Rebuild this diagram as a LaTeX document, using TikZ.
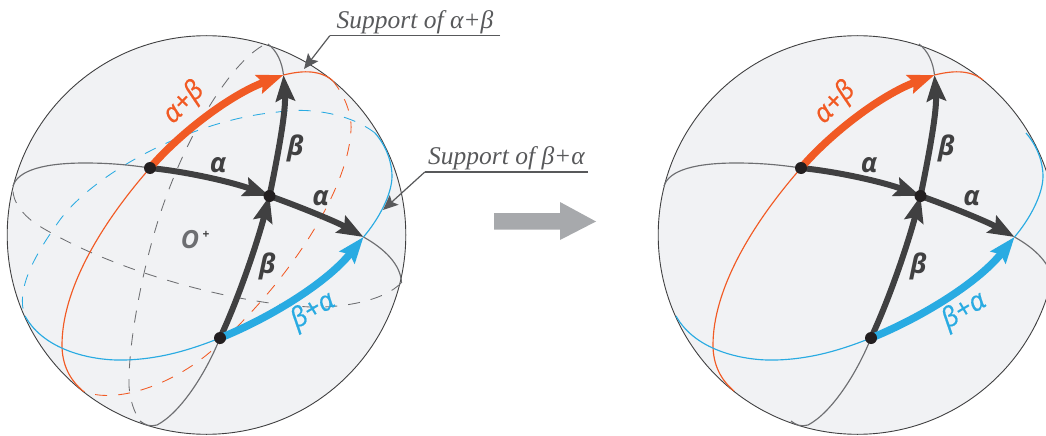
\documentclass[tikz,border=0pt]{standalone}
\usepackage{fontspec}
\setmainfont{Liberation Serif}
\newfontfamily\lblfont{Open Sans}
\newfontfamily\sumfont[ItalicFeatures={FakeBold=0.5}]{Open Sans}
\usetikzlibrary{arrows.meta,calc}
\definecolor{darkarc}{HTML}{404041}
\definecolor{thinarc}{HTML}{6D6E71}
\definecolor{orangearc}{HTML}{F15A24}
\definecolor{bluearc}{HTML}{29ABE2}
\definecolor{ballfill}{HTML}{F1F2F4}
\definecolor{dotblack}{HTML}{231F20}
\definecolor{leadgrey}{HTML}{58595B}
\definecolor{bigarrow}{HTML}{A7A9AC}
\tikzset{
	ball/.style={draw=darkarc, fill=ballfill, line width=0.9pt},
	thinline/.style={line width=1.15pt},
	backline/.style={line width=0.85pt, dash pattern=on 12pt off 11pt},
	thick arc/.style={line width=#1, -{Stealth[length=26pt,width=19pt,inset=4pt]}},
	arcdot/.style={circle, fill=dotblack, inner sep=0pt, minimum size=12pt},
	darklabel/.style={color=darkarc, font=\lblfont\bfseries\itshape\fontsize{27}{27}\selectfont},
	sumlabel/.style={font=\sumfont\itshape\fontsize{27}{27}\selectfont},
	supportlabel/.style={color=leadgrey, font=\itshape\fontsize{25.5}{25.5}\selectfont, inner sep=2pt, anchor=south},
	leader/.style={color=leadgrey, line width=1.2pt},
	leadertip/.style={-{Stealth[length=15pt,width=13pt,inset=3pt]}}
}
% everything both spheres share
\def\spherefront{
	\coordinate (A) at (150, 168);
	\coordinate (B) at (269.5, 196);
	\coordinate (C) at (220, 338);
	\coordinate (D) at (283.5, 75);
	\coordinate (E) at (363.5, 237);
	
	\draw[thinline, thinarc] (13, 186) .. controls (18, 170) and (45, 163) .. (85, 163) .. controls (110, 163) and (130, 165) .. (A);
	\draw[thinline, thinarc] (E) .. controls (385, 249) and (401, 265) .. (401.5, 283);
	\draw[thinline, thinarc] (140, 421) .. controls (145, 425) and (150, 427) .. (157, 425) .. controls (180, 413) and (205, 375) .. (C);
	\draw[thinline, thinarc] (D) .. controls (282, 62) and (277, 51) .. (268, 44);
	
	\draw[thinline, orangearc] (A) .. controls (100, 225) and (62, 290) .. (62, 345) .. controls (62, 365) and (70, 380) .. (83, 391);
	\draw[thinline, orangearc] (D) .. controls (300, 71) and (318, 69) .. (332, 80);
	
	\draw[thinline, bluearc] (25, 316) .. controls (45, 352) and (95, 361) .. (125, 360) .. controls (160, 359) and (190, 350) .. (C);
	\draw[thinline, bluearc] (375, 133) .. controls (388, 148) and (392, 165) .. (392, 176) .. controls (392, 195) and (378, 220) .. (E);
	
	\draw[thick arc=6pt, darkarc] (A) .. controls (190, 172) and (235, 183) .. (B);
	\draw[thick arc=6pt, darkarc] (B) .. controls (290, 203) and (335, 221) .. (E);
	\draw[thick arc=6pt, darkarc] (C) .. controls (240, 295) and (258, 240) .. (B);
	\draw[thick arc=6pt, darkarc] (B) .. controls (279, 150) and (286, 110) .. (D);
	\draw[thick arc=7.5pt, orangearc] (A) .. controls (180, 133) and (230, 95) .. (D);
	\draw[thick arc=7.5pt, bluearc] (C) .. controls (265, 320) and (325, 285) .. (E);
	
	\node[arcdot] (dotA) at (A) {};
	\node[arcdot] (dotB) at (B) {};
	\node[arcdot] (dotC) at (C) {};
	
	\node[darklabel] (alphaone) at (218, 165) {α};
	\node[darklabel] (alphatwo) at (320.5, 198) {α};
	\node[darklabel] (betaup) at (295.5, 148) {β};
	\node[darklabel] (betalow) at (267.5, 266) {β};
	\node[sumlabel, orangearc, rotate=46] (sumab) at (184, 103) {α+β};
	\node[sumlabel, bluearc, rotate=31] (sumba) at (313, 311) {β+α};
}

\begin{document}
\begin{tikzpicture}[x=1pt, y=-1pt]
		%%%%% START %%%%%
		\useasboundingbox (0, 0) rectangle (1046, 436);
		\clip (0, 0) rectangle (1046, 436);
		
		\draw[ball] (206.5, 235) circle (199.3pt);
		
		% back sides, left sphere only
		\draw[backline, thinarc] (401, 283) .. controls (385, 300) and (345, 308) .. (310, 307) .. controls (230, 303) and (110, 270) .. (36, 224) .. controls (22, 214) and (13, 202) .. (13, 190);
		\draw[backline, thinarc] (262, 46) .. controls (230, 65) and (190, 130) .. (165, 200) .. controls (145, 255) and (128, 340) .. (129, 386) .. controls (130, 400) and (134, 412) .. (140, 421);
		\draw[backline, orangearc] (332, 80) .. controls (345, 95) and (352, 115) .. (351, 130) .. controls (348, 190) and (290, 280) .. (217, 346) .. controls (175, 385) and (115, 405) .. (83, 391);
		\draw[backline, bluearc] (375, 133) .. controls (345, 110) and (300, 108) .. (278, 112) .. controls (190, 120) and (90, 175) .. (57, 224) .. controls (35, 255) and (15, 290) .. (25, 316);
		
		\spherefront
		
		\node[color=thinarc, font=\lblfont\bfseries\itshape\fontsize{25}{25}\selectfont] (origin) at (190, 240) {O};
		\node[color=darkarc, font=\lblfont\bfseries\fontsize{12}{12}\selectfont] (originplus) at (206, 235) {+};
		
		\node[supportlabel, minimum width=170pt] (supportab) at (415, 35.7) {Support of α+β};
		\coordinate (tipab) at (304, 69);
		\draw[leader] (supportab.south east) -- (supportab.south west);
		\draw[leader, leadertip] (supportab.south west) -- (tipab);
		
		\node[supportlabel, minimum width=163pt] (supportba) at (506.5, 172) {Support of β+α};
		\coordinate (tipba) at (383, 210);
		\draw[leader] (supportba.south east) -- (supportba.south west);
		\draw[leader, leadertip] (supportba.south west) -- (tipba);
		
		\fill[bigarrow] (494, 213) -- (560, 213) -- (560, 202) -- (596, 221.5) -- (560, 240) -- (560, 229.6) -- (494, 229.6) -- cycle;
		
		\begin{scope}[xshift=651pt, name prefix=r-]
			\draw[ball] (206.5, 235) circle (199.3pt);
			\spherefront
		\end{scope}
		
		%%%%% END %%%%%
	\end{tikzpicture}
\end{document}
